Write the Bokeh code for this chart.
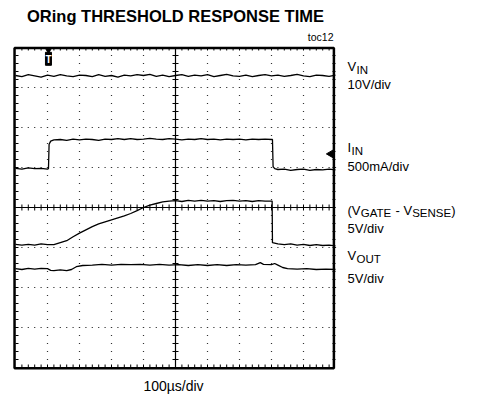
import numpy as np
from bokeh.plotting import figure
from bokeh.models import Range1d
from bokeh.core.properties import value
from bokeh.embed import file_html
from bokeh.resources import INLINE

# ---------------- data (time in divisions of 100us, level in scope divisions) -------------
vin = [(0.0, 7.30), (0.2, 7.27), (0.4, 7.32), (0.6, 7.29), (0.8, 7.26), (1.0, 7.31), (1.2, 7.28),
       (1.4, 7.32), (1.6, 7.29), (1.8, 7.27), (2.0, 7.31), (2.2, 7.30), (2.4, 7.27), (2.6, 7.32),
       (2.8, 7.28), (3.0, 7.30), (3.2, 7.26), (3.4, 7.31), (3.6, 7.29), (3.8, 7.32), (4.0, 7.30),
       (4.2, 7.33), (4.4, 7.28), (4.6, 7.31), (4.8, 7.27), (5.0, 7.30), (5.2, 7.32), (5.4, 7.28),
       (5.6, 7.31), (5.8, 7.29), (6.0, 7.32), (6.2, 7.27), (6.4, 7.30), (6.6, 7.33), (6.8, 7.29),
       (7.0, 7.28), (7.2, 7.31), (7.4, 7.27), (7.6, 7.30), (7.8, 7.32), (8.0, 7.29), (8.2, 7.31),
       (8.4, 7.28), (8.6, 7.30), (8.8, 7.33), (9.0, 7.29), (9.2, 7.27), (9.4, 7.31), (9.6, 7.30),
       (9.8, 7.28), (10.0, 7.31)]

iin = [(0.0, 4.98), (0.2, 4.96), (0.4, 4.99), (0.6, 4.97), (0.8, 4.98), (1.0, 4.96), (1.03, 4.97),
       (1.05, 5.58), (1.1, 5.66), (1.2, 5.69), (1.4, 5.70), (1.6, 5.68), (1.8, 5.71), (2.0, 5.69),
       (2.2, 5.71), (2.4, 5.70), (2.6, 5.68), (2.8, 5.71), (3.0, 5.70), (3.2, 5.72), (3.4, 5.70),
       (3.6, 5.72), (3.8, 5.70), (4.0, 5.71), (4.2, 5.73), (4.4, 5.71), (4.6, 5.70), (4.8, 5.72),
       (5.0, 5.71), (5.2, 5.69), (5.4, 5.71), (5.6, 5.70), (5.8, 5.72), (6.0, 5.70), (6.2, 5.71),
       (6.4, 5.69), (6.6, 5.71), (6.8, 5.70), (7.0, 5.71), (7.2, 5.69), (7.4, 5.71), (7.6, 5.70),
       (7.8, 5.71), (8.0, 5.70), (8.03, 5.70), (8.05, 5.02), (8.1, 4.97), (8.2, 4.95), (8.4, 4.96),
       (8.6, 4.93), (8.8, 4.95), (9.0, 4.96), (9.2, 4.93), (9.4, 4.95), (9.6, 4.94), (9.8, 4.96),
       (10.0, 4.94)]

vgate = [(0.0, 3.08), (0.2, 3.06), (0.4, 3.08), (0.6, 3.06), (0.8, 3.09), (1.0, 3.07), (1.2, 3.07),
         (1.4, 3.12), (1.6, 3.17), (1.8, 3.27), (2.0, 3.36), (2.2, 3.44), (2.4, 3.52), (2.6, 3.59),
         (2.8, 3.64), (3.0, 3.69), (3.2, 3.74), (3.4, 3.79), (3.6, 3.85), (3.8, 3.92), (4.0, 4.00),
         (4.2, 4.06), (4.4, 4.10), (4.6, 4.14), (4.8, 4.16), (5.0, 4.17), (5.2, 4.15), (5.4, 4.18),
         (5.6, 4.16), (5.8, 4.18), (6.0, 4.16), (6.2, 4.17), (6.4, 4.15), (6.6, 4.17), (6.8, 4.18),
         (7.0, 4.16), (7.2, 4.17), (7.4, 4.15), (7.6, 4.17), (7.8, 4.16), (8.02, 4.16), (8.03, 3.12),
         (8.2, 3.09), (8.4, 3.07), (8.6, 3.09), (8.8, 3.06), (9.0, 3.08), (9.2, 3.05), (9.4, 3.07),
         (9.6, 3.05), (9.8, 3.06), (10.0, 3.04)]

vout = [(0.0, 2.47), (0.2, 2.45), (0.4, 2.48), (0.6, 2.46), (0.8, 2.48), (1.0, 2.47), (1.1, 2.43),
        (1.2, 2.42), (1.4, 2.44), (1.6, 2.42), (1.75, 2.45), (1.9, 2.52), (2.1, 2.55), (2.4, 2.56),
        (2.7, 2.58), (3.0, 2.56), (3.3, 2.58), (3.6, 2.57), (3.9, 2.58), (4.2, 2.56), (4.5, 2.58),
        (4.8, 2.56), (5.1, 2.57), (5.4, 2.55), (5.7, 2.57), (6.0, 2.55), (6.3, 2.57), (6.6, 2.55),
        (6.9, 2.57), (7.2, 2.56), (7.5, 2.57), (7.65, 2.62), (7.75, 2.58), (8.0, 2.57), (8.1, 2.60),
        (8.2, 2.56), (8.35, 2.50), (8.5, 2.47), (8.8, 2.46), (9.1, 2.47), (9.4, 2.45), (9.7, 2.46),
        (10.0, 2.45)]

trigger_time = 1.03       # trigger marker position (div)
trigger_level = 5.34      # I_IN trigger level marker (div)

title_text = "ORing THRESHOLD RESPONSE TIME"
fig_id = "toc12"
time_label = "100\u00b5s/div"

# ---------------- geometry helpers (image pixel -> scope divisions) ----------------
PXX, PXY = 32.0, 40.0
IX0, IY0 = 15.0, 367.0
OFF = 0          # canvas origin in the screenshot
W, H = 476, 399


def dx(ix):
    return (ix - IX0) / PXX


def dy(iy):
    return (IY0 - iy) / PXY


p = figure(width=W, height=H, output_backend="svg", toolbar_location=None,
           x_range=Range1d(dx(OFF), dx(OFF + W)), y_range=Range1d(dy(OFF + H), dy(OFF)),
           x_axis_location=None, y_axis_location=None, min_border=0)
p.grid.visible = False
p.outline_line_color = None
p.background_fill_color = "white"
p.border_fill_color = "white"

FONT = "Liberation Sans"

# dotted graticule (dots at every minor division)
mxa = np.arange(0.0, 10.001, 0.2)
mya = np.arange(0.0, 8.001, 0.2)
gx = [1, 2, 3, 4, 6, 7, 8, 9]
gy = [1, 2, 3, 5, 6, 7]
dots_x = [x for y in gy for x in mxa] + [x for x in gx for y in mya]
dots_y = [y for y in gy for x in mxa] + [y for x in gx for y in mya]
p.rect(x=dots_x, y=dots_y, width=1.2, height=1.2, width_units="screen", height_units="screen",
       fill_color="#333333", line_color=None)

# centre cross with minor ticks
p.segment(x0=[0, 5], x1=[10, 5], y0=[4, 0], y1=[4, 8], line_color="black", line_width=1.2)
mx = np.arange(0.2, 10.0, 0.2)
my = np.arange(0.2, 8.0, 0.2)
tx = 3.0 / PXX
ty = 3.0 / PXY
p.segment(x0=mx, x1=mx, y0=4 - ty, y1=4 + ty, line_color="black", line_width=1)
p.segment(x0=5 - tx, x1=5 + tx, y0=my, y1=my, line_color="black", line_width=1)
# edge ticks (inward)
p.segment(x0=mx, x1=mx, y0=0, y1=ty, line_color="black", line_width=1)
p.segment(x0=mx, x1=mx, y0=8 - ty, y1=8, line_color="black", line_width=1)
p.segment(x0=0, x1=tx, y0=my, y1=my, line_color="black", line_width=1)
p.segment(x0=10 - tx, x1=10, y0=my, y1=my, line_color="black", line_width=1)

# frame
p.quad(left=[-0.03], right=[9.95], bottom=[-0.02], top=[7.99], fill_color=None,
       line_color="black", line_width=2.5)

# traces
for tr in (vin, iin, vgate, vout):
    t, v = zip(*tr)
    p.line(x=list(t), y=list(v), line_color="black", line_width=1.3)

# trigger marker
p.rect(x=[trigger_time], y=[dy(58.3)], width=6, height=13, width_units="screen",
       height_units="screen", fill_color="black", line_color="black")
p.scatter(x=[trigger_time], y=[dy(49.5)], marker="inverted_triangle", size=6,
          fill_color="black", line_color="black")
p.text(x=[trigger_time], y=[dy(58.5)], text=["T"], text_color="white", text_align="center",
       text_baseline="alphabetic", text_font=value(FONT), text_font_size="10px",
       text_font_style="bold")
# trigger level marker
p.scatter(x=[dx(330.5)], y=[trigger_level], marker="triangle", angle=np.pi / 2, size=8,
          fill_color="black", line_color="black")

# texts (y = vertical centre of the capitals, as rendered)
p.text(x=[dx(175)], y=[dy(15)], text=[title_text], text_align="center", text_baseline="alphabetic",
       text_font=value(FONT), text_font_size="16.5px", text_font_style="bold", text_color="black")
p.text(x=[dx(333)], y=[dy(36.5)], text=[fig_id], text_align="right", text_baseline="alphabetic",
       text_font=value(FONT), text_font_size="10.5px", text_color="black")
p.text(x=[dx(173)], y=[dy(385.5)], text=[time_label], text_align="center",
       text_baseline="alphabetic", text_font=value(FONT), text_font_size="14px", text_color="black")

main_lbl = [("V", 347, 66.2), ("10V/div", 347, 84.3), ("I", 347, 147), ("500mA/div", 347, 165.8),
            ("(V", 347, 209.5), ("-", 395.1, 209.5), ("V", 403.0, 209.5), (")", 450.7, 209.5),
            ("5V/div", 347, 227.5), ("V", 347, 254.8), ("5V/div", 347, 278)]
sub_lbl = [("IN", 356, 69.5), ("IN", 351, 150.3), ("GATE", 360.2, 212.8), ("SENSE", 411.7, 212.8),
           ("OUT", 356, 258)]
for lbls, size in ((main_lbl, "13px"), (sub_lbl, "11.5px")):
    s, xs, ys = zip(*lbls)
    p.text(x=[dx(v) for v in xs], y=[dy(v) for v in ys], text=list(s), text_align="left",
           text_baseline="alphabetic", text_font=value(FONT), text_font_size=size,
           text_color="black")

open("out.html", "w").write(file_html(p, INLINE))
